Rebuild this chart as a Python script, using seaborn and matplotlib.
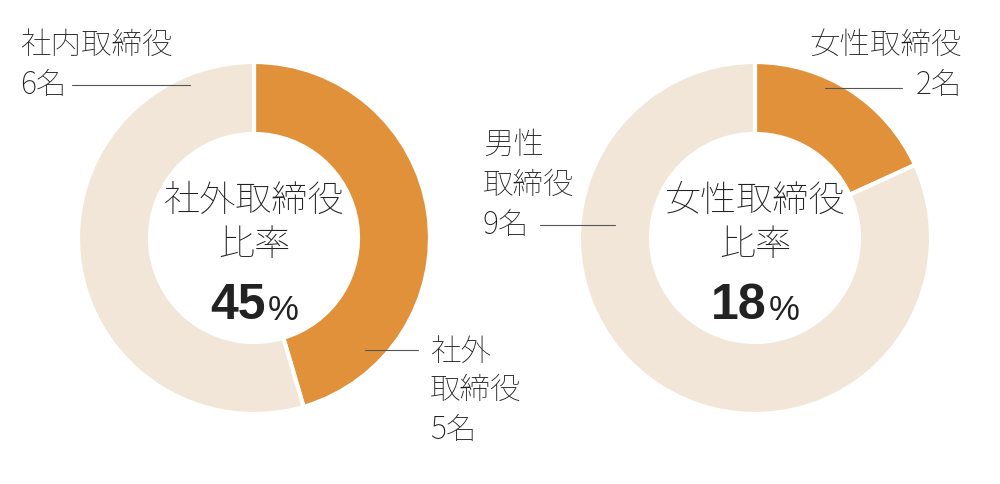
import matplotlib
matplotlib.use("Agg")
import matplotlib.pyplot as plt
import seaborn as sns

sns.set_theme(style="white")
plt.rcParams["font.family"] = "Noto Sans CJK JP"

ORANGE = "#E0913A"
BEIGE = "#F1E6D8"

# data
left_labels = ["社外取締役", "社内取締役"]
left_counts = [5, 6]
right_labels = ["女性取締役", "男性取締役"]
right_counts = [2, 9]

fig = plt.figure(figsize=(10, 4.84), dpi=100)
ax = fig.add_axes([0, 0, 1, 1])
H = 484


def donut(cx, cy, counts):
    ax.pie(counts, colors=[ORANGE, BEIGE], startangle=90, counterclock=False,
           center=(cx, H - cy), radius=176,
           wedgeprops=dict(width=72, edgecolor="white", linewidth=3))


donut(254, 238, left_counts)
donut(755, 238, right_counts)
ax.set_xlim(0, 1000)
ax.set_ylim(0, H)
ax.set_aspect("equal")
ax.axis("off")

tc = "#222222"


def t(x, y, s, size=22, ha="left", **kw):
    ax.text(x, H - y, s, fontsize=size, ha=ha, va="center", color=tc,
            fontweight="light", **kw)


def line(x0, x1, y):
    ax.plot([x0, x1], [H - y, H - y], color="#555555", lw=0.8)


# center labels
for cx, lab, cnt in [(254, "社外取締役", left_counts), (755, "女性取締役", right_counts)]:
    pct = round(100 * cnt[0] / sum(cnt))
    t(cx, 200, lab, size=26, ha="center")
    t(cx, 245, "比率", size=26, ha="center")
    ax.text(cx + 12, H - 306, str(pct), fontsize=36, fontweight="bold", ha="right",
            va="center", color=tc, family="Liberation Sans")
    ax.text(cx + 14, H - 311, "%", fontsize=25, ha="left", va="center", color=tc,
            family="Liberation Sans")

# left callouts
t(20, 45, left_labels[1])
t(20, 85, f"{left_counts[1]}名")
line(72, 190, 85)
t(430, 352, "社外")
t(430, 390, "取締役")
t(430, 430, f"{left_counts[0]}名")
line(365, 418, 350)

# right callouts
t(962, 45, right_labels[0], ha="right")
t(962, 85, f"{right_counts[0]}名", ha="right")
line(825, 902, 88)
t(483, 145, "男性")
t(483, 185, "取締役")
t(483, 225, f"{right_counts[1]}名")
line(540, 615, 225)

fig.savefig("out.png", dpi=100)
